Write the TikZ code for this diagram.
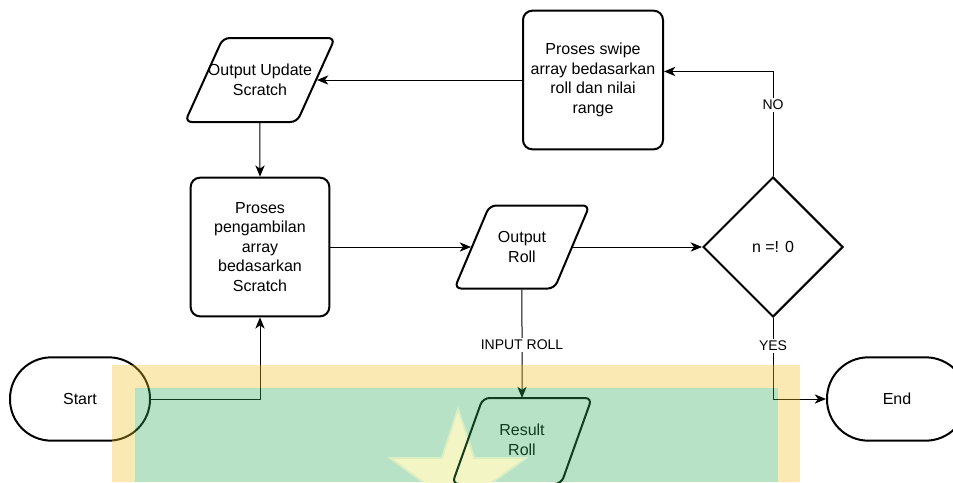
\documentclass[tikz,border=0pt]{standalone}
\usepackage{fontspec}
\setmainfont{Liberation Sans}
\usetikzlibrary{shapes.geometric,arrows.meta,calc}
\definecolor{wmyel}{RGB}{246,192,41}
\definecolor{wmgrn}{RGB}{49,172,89}
\definecolor{wmline}{RGB}{17,60,31}
\definecolor{starcol}{RGB}{248,248,196}
\begin{document}
\begin{tikzpicture}[x=0.75pt,y=-0.75pt,
  shapefont/.style={font=\fontsize{12}{14.6}\selectfont},
  term/.style={draw, line width=1.5pt, rounded corners=31pt, minimum width=105pt, minimum height=62.5pt, fill=white, shapefont},
  proc/.style={draw, line width=1.5pt, rounded corners=7pt, minimum width=104pt, minimum height=104pt, align=center, fill=white, inner sep=0pt, shapefont},
  para/.style={rectangle, xslant=#1, draw, line width=1.5pt, rounded corners=5pt, fill=white, inner sep=0pt},
  dec/.style={diamond, draw, line width=1.5pt, minimum width=105pt, minimum height=105pt, inner sep=0pt, fill=white, shapefont},
  txt/.style={align=center, inner sep=0pt, shapefont},
  arr/.style={-{Stealth[length=8.5pt,width=7pt,inset=2.5pt]}, line width=0.75pt},
  lbl/.style={fill=white, inner sep=1.5pt, font=\fontsize{10.5}{12}\selectfont}
]
\useasboundingbox (0,0) rectangle (953,482);
\fill[white] (0,0) rectangle (953,482);

% nodes
\node[term] (start) at (80,399) {Start};
\node[term] (end) at (897,399) {End};
\node[para=0.452, minimum width=84pt, minimum height=63pt] (ous) at (260,80) {};
\node[txt] (ous-t) at (260,80) {Output Update\\Scratch};
\node[proc] (pp) at (260,247) {Proses\\pengambilan\\array\\bedasarkan\\Scratch};
\node[para=0.422, minimum width=75pt, minimum height=62.25pt] (or) at (522,247) {};
\node[txt] (or-t) at (522,247) {Output\\Roll};
\node[dec] (dia) at (773,247) {n =! 0};
\node[proc, minimum width=105pt, minimum height=104pt] (ps) at (593,80) {Proses swipe\\array bedasarkan\\roll dan nilai\\range};
\node[para=0.357, minimum width=80.25pt, minimum height=63pt, draw=none, fill=none] (rr) at (522,441) {};

% connectors
\draw[arr] (start.east) -| (pp.south);
\draw[arr] (ous) -- (pp);
\draw[arr] (pp) -- (or);
\draw[arr] (or) -- (dia);
\draw[arr] (dia.north) |- ([yshift=6.4pt]ps.east);
\draw[arr] (ps) -- (ous);
\draw[arr] (or) -- (rr);
\draw[arr] (dia.south) |- (end.west);
\node[lbl] (lno) at (773,105) {NO};
\node[lbl] (lin) at (522,345) {INPUT ROLL};
\node[lbl] (lyes) at (773,346) {YES};

% watermark overlay
\fill[wmyel, fill opacity=0.35, even odd rule] (112,365) rectangle (800,482) (135,388) rectangle (778,482);
\fill[wmgrn, fill opacity=0.35] (135,388) rectangle (778,482);
\fill[starcol, fill opacity=0.55] (458,406) -- (475,457) -- (529,457) -- (485,489) -- (502,540) -- (458,509) -- (414,540) -- (431,489) -- (387,457) -- (441,457) -- cycle;
\fill[starcol, fill opacity=0.85] (458,412) -- (473.3,459) -- (522.7,459) -- (482.7,488) -- (498,535) -- (458,506) -- (418,535) -- (433.3,488) -- (393.3,459) -- (442.7,459) -- cycle;

% result roll outline (under the overlay tint)
\draw[wmline, line width=1.5pt, rounded corners=5pt] (rr.south west) -- (rr.north west) -- (rr.north east) -- (rr.south east) -- cycle;
\node[txt, text=wmline] (rr-t) at (522,440) {Result\\Roll};
\end{tikzpicture}
\end{document}
